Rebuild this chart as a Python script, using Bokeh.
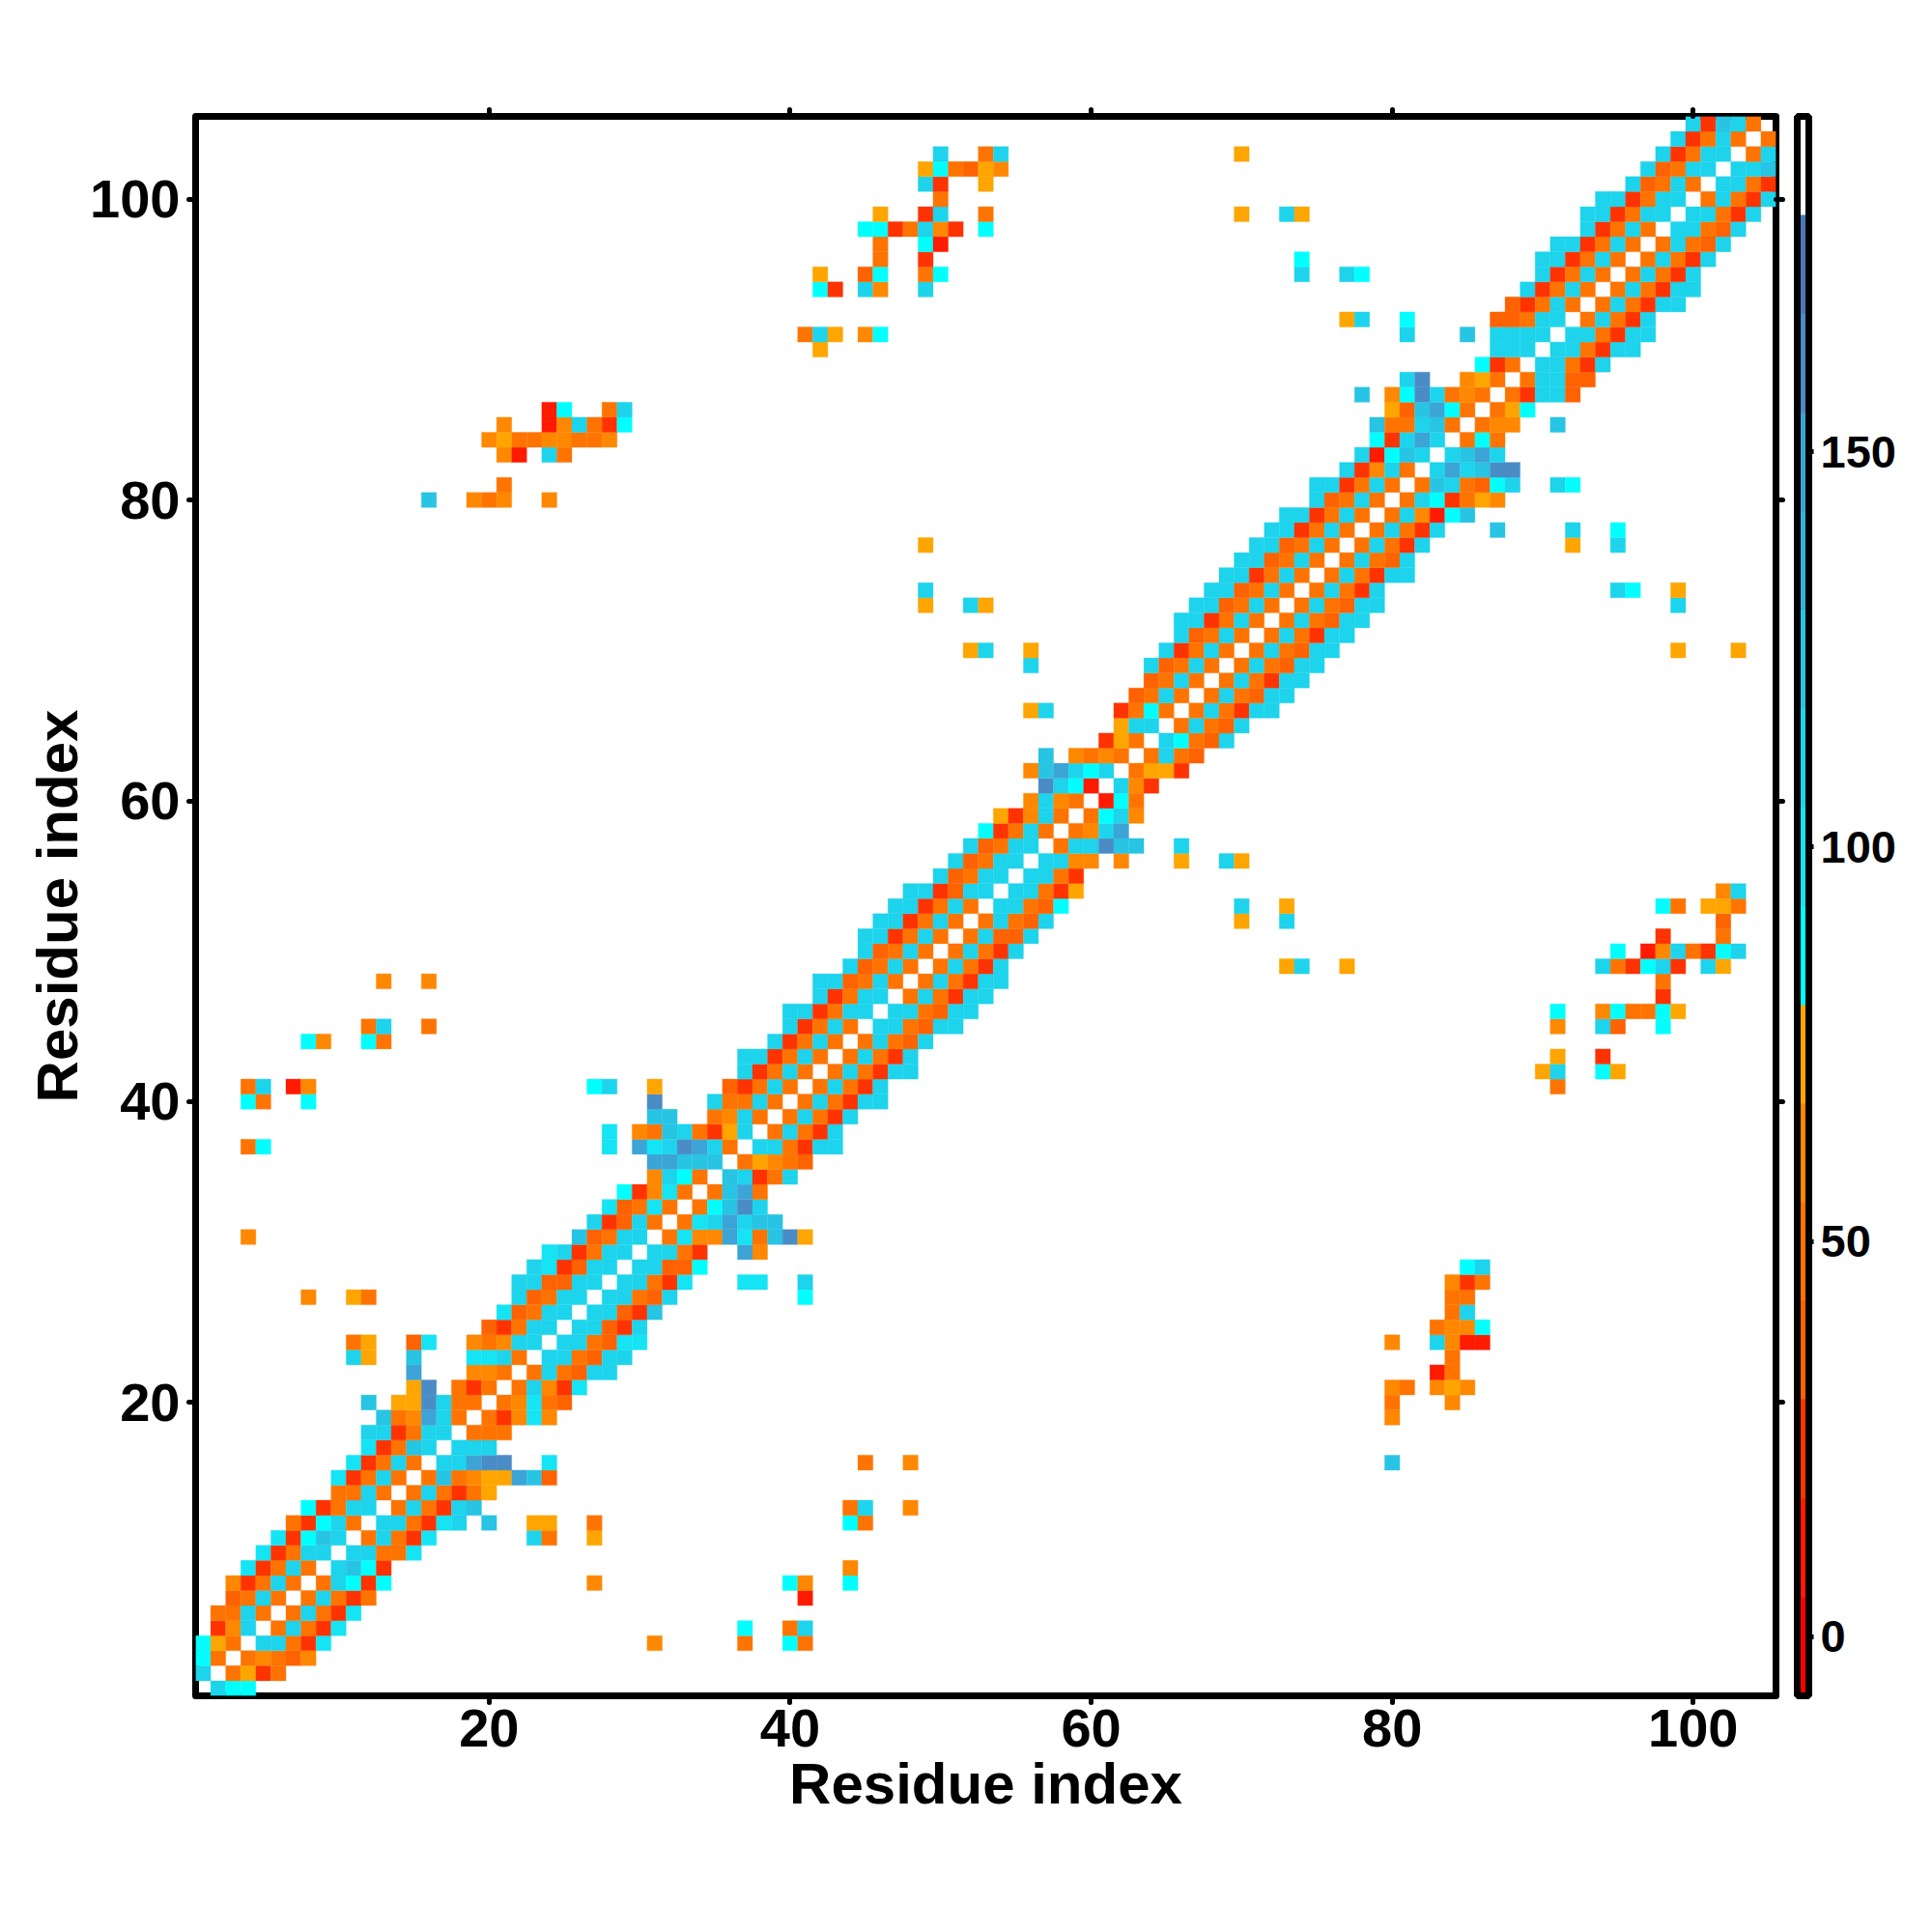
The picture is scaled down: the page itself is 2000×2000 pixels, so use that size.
from bokeh.plotting import figure
from bokeh.models import (ColumnDataSource, LinearColorMapper, ColorBar, FixedTicker, LinearAxis)
from bokeh.embed import file_html
from bokeh.resources import INLINE

axis_title = "Residue index"
residue_ticks = [20, 40, 60, 80, 100]
colorbar_ticks = [0, 50, 100, 150]
value_low = -7.5
value_high = 192.5
band_palette = ["#ff0000", "#ff1a00", "#ff3300", "#ff6200", "#ff7400", "#ff8800", "#ffa500",
                "#00ffff", "#14e4f4", "#1dd4ec", "#28c4e4", "#34b0dc", "#3ca4d6", "#4a8cc6", "#4a78bc", "#ffffff"]
code_names = ["R", "q", "O", "o", "n", "A", "C", "c", "b", "B", "d", "D"]
code_values = [11, 24, 36, 49, 61, 74, 86, 99, 111, 124, 149, 161]

# Each string is one residue row j: "<i><code>" for every contact with i > j.
rows_1_25 = [
 "2b 3C 4C", "3o 4A 5q 6o", "4o 5n 6o 7O 8n", "5b 6b 7o 8q 9c 31n 37o 40C 41o",
 "6o 7b 8o 9q 10c 37C 40o 41b", "7o 8b 9o 10q 11c", "8o 9b 10o 11q 12o 41R",
 "9o 10b 11C 12q 13C 27n 40C 41n 44C", "10b 11B 12C 13q 44n", "11b 12b 13o 14o 15c",
 "12o 13b 14o 15q 16c 23b 24o 27A", "13b 14b 15o 16q 17c 18b 20B 23A 24A 27o 44C 45o",
 "14o 15b 16o 17q 18b 19B 44o 45b 48n", "15o 16b 17o 18q 19o 20A",
 "16o 17B 18o 19n 20A 21A 22d 23B 24O", "17b 18b 19d 20D 21D 24c 45o 48n 80B",
 "18b 19b 20b", "19o 20o 21o", "20o 21q 22n 23c 24n 80n", "21o 22n 23c 24o 25O 80o 84n",
 "22o 23b 24n 25q 26c 80n 81o 83n 84A 85n", "23o 24b 25o 26O 27b 28b 83R 84o",
 "24b 25b 26o 27O 28b 29b 84o", "25b 26b 27o 28O 29c 30c 80n 83b 84n 85R 86R",
 "26b 27b 28O 29q 30b 83o 84n 85n 86C",
]
rows_26_50 = [
 "27b 28b 29O 30q 31B 84o 85b", "28b 29b 30o 31O 32b 41C 84o 85o",
 "29b 30b 31o 32q 33c 37c 38c 41b 84n 85q 86o", "30b 31b 32O 33O 34C 85C 86b",
 "31b 32b 33o 34q 37d 38n", "32o 33c 34n 35n 36d 37c 38o 39B 40D 41A",
 "33o 34c 35b 36d 37b 38B 39B", "34o 35C 36B 37D 38b", "35o 36B 37d 38o",
 "36B 37b 38q 39o 40b", "37o 38A 39n 40o 41O", "38b 39b 40o 41q 42b 43b",
 "39o 40b 41o 42q 43b", "40o 41b 42o 43q 44b", "41o 42b 43o 44q 45b 46b",
 "42o 43b 44o 45q 46b 91o", "43o 44b 45o 46q 47b 48b 90A 91b 94C 95A",
 "44o 45b 46o 47q 48b 91A 94q", "45o 46b 47o 48O 49b",
 "46b 47b 48o 49O 50b 51b 91n 94b 95O 98C",
 "47b 48b 49o 50O 51b 52b 91C 94n 95C 96o 97o 98C 99A",
 "48o 49b 50o 51q 52b 53b 98q", "49o 50b 51o 52q 53b 54b 98o",
 "50o 51b 52o 53q 54b 73A 74b 77A 94b 95o 96q 97C 98b 99q 101b 102A",
 "51o 52b 53o 54q 55b 95C 97R 98n 99b 100o 101q 102C 103b",
]
rows_51_75 = [
 "52o 53b 54O 55O 56b 98q 102o", "53o 54b 55o 56O 57b 70A 73b 102O",
 "54b 55b 56o 57O 58C 70b 73A 98C 99o 101A 102A 103o", "55b 56b 57o 58q 59A 102n 103b",
 "56b 57b 58o 59q", "57b 58b 59n 60n 62n 66A 69b 70A", "58o 59b 60b 61D 62B 63B 66b",
 "59o 60n 61b 62d", "60o 61C 62b 63n", "61R 62C 63o", "62b 63n 64q", "63o 64A 65A 66q",
 "64o 65b 66o 67O", "65b 66C 67o 68O 69b", "66o 67b 68o 69O 70b", "67o 68b 69o 70q 71b 72b",
 "68o 69b 70o 71O 72b 73b", "69o 70b 71o 72q 73b 74b", "70o 71b 72o 73O 74b 75b",
 "71o 72b 73o 74O 75b 76b 99A 103A", "72o 73b 74o 75q 76b 77b", "73o 74b 75o 76O 77b 78b",
 "74o 75b 76o 77O 78b 79b 99b", "75o 76b 77o 78q 79b 95b 96C 99A", "76o 77b 78o 79q 80b 81b",
]
rows_76_104 = [
 "77o 78b 79o 80O 81b", "78o 79b 80o 81q 82b 92A 95b", "79o 80b 81o 82q 83b 87B 92b 95C",
 "80o 81b 82n 83R 84C 85B", "81o 82b 83C 84q 85o 86A 87n",
 "82o 83B 84b 85o 86O 87C 88b 91b 92C", "83b 84d 85b 86B 87D 88D", "84b 85B 86d 87b",
 "85o 86C 87o", "86o 87n 88n 91B", "87o 88A 89C", "88o 89q 90b 91b 92O", "89o 90b 91b 92O 93O",
 "90b 91b 92o 93q 94b", "91b 92b 93o 94q 95b 96b", "92b 93b 94o 95q 96b 97b",
 "93o 94b 95o 96q 97b", "94o 95b 96o 97q 98b 99b", "95o 96b 97o 98q 99b 100b",
 "96o 97b 98o 99q 100b", "97o 98b 99o 100q 101b", "98o 99b 100o 101O 102b",
 "99b 100b 101o 102O 103b", "100b 101b 102o 103q 104b", "101o 102b 103o 104q 105b",
 "102b 103b 104o 105q", "103b 104b 105B", "104o 105b", "105o",
]

lookup = dict(zip(code_names, code_values))
xs, ys, vals = [], [], []
for j, row in enumerate(rows_1_25 + rows_26_50 + rows_51_75 + rows_76_104, start=1):
    for tok in row.split():
        i = int(tok[:-1])
        v = lookup[tok[-1]]
        xs += [i, j]
        ys += [j, i]
        vals += [v, v]

mapper = LinearColorMapper(palette=band_palette, low=value_low, high=value_high)
source = ColumnDataSource(dict(x=xs, y=ys, v=vals))

p = figure(width=1984, height=1984, x_range=(0.5, 105.5), y_range=(0.5, 105.5),
           frame_width=1636, frame_height=1635,
           output_backend="svg", toolbar_location=None,
           x_axis_label=axis_title, y_axis_label=axis_title,
           min_border_left=202, min_border_top=120, min_border_right=146, min_border_bottom=229)
p.grid.visible = False
p.background_fill_color = "white"
p.border_fill_color = "white"
color = {"field": "v", "transform": mapper}
p.rect("x", "y", width=1, height=1, source=source, fill_color=color, line_color=color, line_width=0.3)

p.outline_line_color = "black"
p.outline_line_width = 7
p.outline_line_join = "round"

for ax in (p.xaxis[0], p.yaxis[0]):
    ax.ticker = FixedTicker(ticks=residue_ticks)
    ax.axis_line_color = None
    ax.major_tick_in = 0
    ax.major_tick_out = 7
    ax.minor_tick_line_color = None
    ax.major_tick_line_color = "black"
    ax.major_tick_line_width = 5
    ax.major_tick_line_cap = "round"
    ax.major_label_text_font = "Liberation Sans"
    ax.major_label_text_font_style = "bold"
    ax.major_label_text_font_size = "56px"
    ax.major_label_text_color = "black"
    ax.axis_label_text_font = "Liberation Sans"
    ax.axis_label_text_font_style = "bold"
    ax.axis_label_text_font_size = "60px"
    ax.axis_label_text_color = "black"
p.xaxis[0].major_label_standoff = 7
p.xaxis[0].axis_label_standoff = 2
p.yaxis[0].major_label_standoff = 9
p.yaxis[0].axis_label_standoff = -3

for place in ("above", "right"):
    blank = LinearAxis(ticker=FixedTicker(ticks=residue_ticks),
                       major_label_overrides={t: "" for t in residue_ticks},
                       major_label_text_font_size="1px", major_label_standoff=0,
                       axis_line_color=None, major_tick_in=0, major_tick_out=7,
                       minor_tick_line_color=None, major_tick_line_color="black",
                       major_tick_line_width=5, major_tick_line_cap="round")
    p.add_layout(blank, place)

cb = ColorBar(color_mapper=mapper, ticker=FixedTicker(ticks=colorbar_ticks),
              width=12, height=1635, location=(15, 0), padding=0, margin=0,
              bar_line_color="black", bar_line_width=7, border_line_color=None,
              background_fill_color=None,
              major_tick_in=0, major_tick_out=5, major_tick_line_color="black", major_tick_line_width=5,
              minor_tick_line_color=None, label_standoff=7,
              major_label_text_font="Liberation Sans", major_label_text_font_style="bold",
              major_label_text_font_size="47px", major_label_text_color="black")
p.add_layout(cb, "right")

open("out.html", "w").write(file_html(p, INLINE))
